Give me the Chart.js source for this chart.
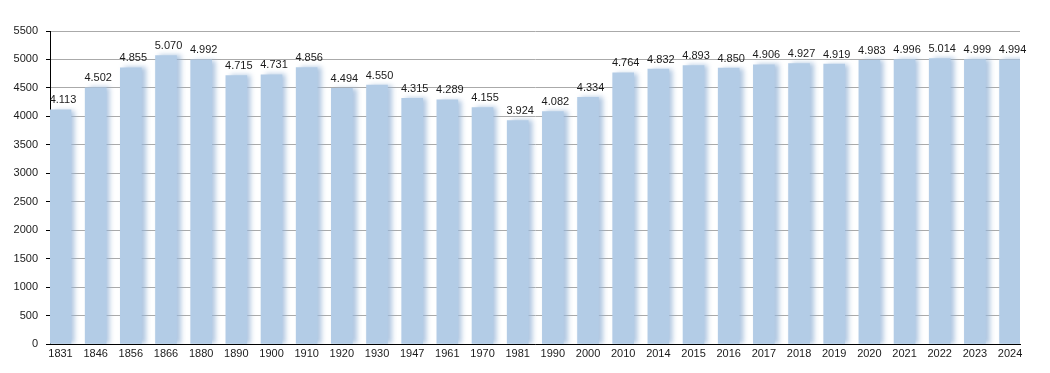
<!DOCTYPE html>
<html>
<head>
<meta charset="utf-8">
<script src="https://cdn.jsdelivr.net/npm/chart.js@4"></script>
<style>
  html, body { margin: 0; padding: 0; background: #fff; }
  #wrap { width: 1050px; height: 373px; }
</style>
</head>
<body>
<div id="wrap"><canvas id="chart" width="1050" height="373"></canvas></div>
<script>
// Population per census year.
const years = [
  "1831", "1846", "1856", "1866", "1880", "1890", "1900", "1910", "1920", "1930",
  "1947", "1961", "1970", "1981", "1990", "2000", "2010", "2014", "2015", "2016",
  "2017", "2018", "2019", "2020", "2021", "2022", "2023", "2024",
];
const population = [
  4113, 4502, 4855, 5070, 4992, 4715, 4731, 4856, 4494, 4550,
  4315, 4289, 4155, 3924, 4082, 4334, 4764, 4832, 4893, 4850,
  4906, 4927, 4919, 4983, 4996, 5014, 4999, 4994,
];
const yTicks = [0, 500, 1000, 1500, 2000, 2500, 3000, 3500, 4000, 4500, 5000, 5500];

const FONT = "'Liberation Sans', Arial, sans-serif";
const BAR = "#b3cce6";

// "4113" -> "4.113"
function fmt(v) {
  return String(v).replace(/\B(?=(\d{3})+(?!\d))/g, ".");
}

// soft shadow to the right of each bar
const barShadow = {
  id: "barShadow",
  beforeDatasetDraw(chart) {
    const ctx = chart.ctx;
    ctx.save();
    ctx.shadowColor = "rgba(150,180,215,0.75)";
    ctx.shadowOffsetX = 4;
    ctx.shadowOffsetY = 0;
    ctx.shadowBlur = 5;
  },
  afterDatasetDraw(chart) {
    chart.ctx.restore();
  },
};

// value label above each bar
const valueLabels = {
  id: "valueLabels",
  afterDatasetsDraw(chart) {
    const ctx = chart.ctx;
    const meta = chart.getDatasetMeta(0);
    ctx.save();
    ctx.font = "11px " + FONT;
    ctx.fillStyle = "#1a1a1a";
    ctx.textAlign = "center";
    ctx.textBaseline = "bottom";
    meta.data.forEach((el, i) => {
      ctx.fillText(fmt(population[i]), el.x + 2.5, el.y - 4);
    });
    ctx.restore();
  },
};

new Chart(document.getElementById("chart"), {
  type: "bar",
  data: {
    datasets: [{
      data: population.map((v, i) => ({ x: i, y: v })),
      backgroundColor: BAR,
      borderWidth: 0,
      barThickness: 21,
    }],
  },
  options: {
    responsive: false,
    animation: false,
    events: [],
    layout: { padding: { left: 0, right: 30, top: 31, bottom: 0 } },
    plugins: { legend: { display: false }, tooltip: { enabled: false } },
    scales: {
      x: {
        type: "linear",
        offset: false,
        min: -0.2986,
        max: 27.283,
        grid: { display: false, drawTicks: false },
        border: { display: true, color: "#000", width: 1 },
        afterBuildTicks: (s) => { s.ticks = years.map((_, i) => ({ value: i })); },
        afterFit: (s) => { s.height = 29; },
        ticks: {
          autoSkip: false,
          maxRotation: 0,
          padding: 3,
          color: "#1a1a1a",
          font: { family: FONT, size: 11 },
          callback: (v) => years[v] ?? "",
        },
      },
      y: {
        min: 0,
        max: 5500,
        afterBuildTicks: (s) => {
          const t = [];
          for (let v = 0; v <= 5500; v += 250) t.push({ value: v });
          s.ticks = t;
        },
        afterFit: (s) => { s.width = 50; },
        grid: {
          color: (c) => (c.tick && c.tick.value % 500 === 0 ? "#aaaaaa" : "#e3e3e3"),
          tickColor: "#000",
          tickLength: 4,
          drawTicks: true,
        },
        border: { display: true, color: "#000", width: 1 },
        ticks: {
          padding: 8,
          color: "#1a1a1a",
          font: { family: FONT, size: 11 },
          callback: (v) => (yTicks.includes(v) ? String(v) : ""),
        },
      },
    },
  },
  plugins: [barShadow, valueLabels],
});
</script>
</body>
</html>
